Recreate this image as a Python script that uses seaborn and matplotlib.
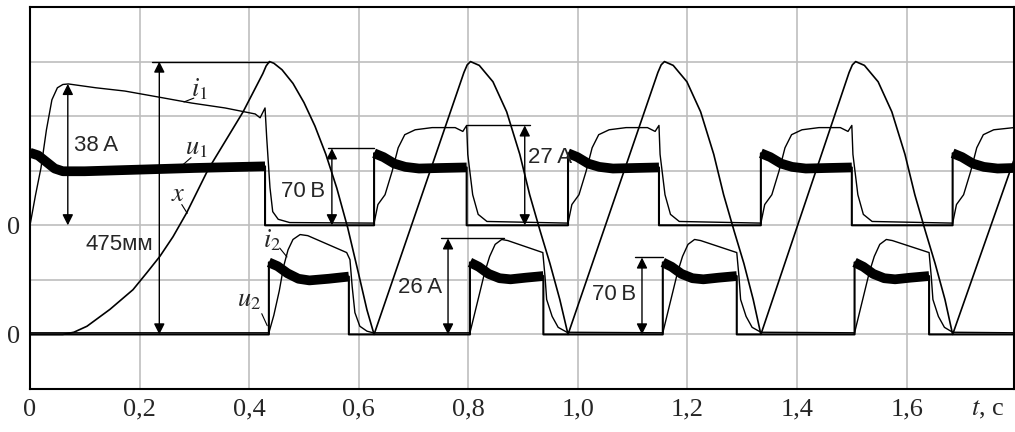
import numpy as np
import pandas as pd
import matplotlib
matplotlib.use("Agg")
import matplotlib.pyplot as plt
import seaborn as sns

# all values in grid units: lower channel zero = 0, upper channel zero = 2
T_END = 1.796

# x: displacement of the armature
x_t = [0.000, 0.060, 0.080, 0.104, 0.146, 0.188, 0.214, 0.237, 0.261, 0.286, 0.325, 0.389, 0.425, 0.431, 0.437,
       0.445, 0.460, 0.480, 0.500, 0.520, 0.540, 0.560, 0.580, 0.600, 0.615, 0.628,
       0.792, 0.798, 0.804, 0.820, 0.845, 0.870, 0.894, 0.912, 0.931, 0.949, 0.967, 0.982,
       1.146, 1.152, 1.158, 1.174, 1.199, 1.224, 1.248, 1.266, 1.285, 1.303, 1.320, 1.334,
       1.495, 1.501, 1.507, 1.523, 1.548, 1.573, 1.597, 1.615, 1.634, 1.652, 1.670, 1.684,
       1.796]
x_y = [0.00, 0.00, 0.04, 0.15, 0.46, 0.82, 1.14, 1.43, 1.79, 2.23, 3.02, 4.08, 4.78, 4.92, 5.00,
       4.97, 4.85, 4.60, 4.25, 3.82, 3.30, 2.68, 1.95, 1.10, 0.45, 0.00,
       4.80, 4.94, 5.00, 4.93, 4.63, 4.08, 3.30, 2.56, 1.90, 1.30, 0.64, 0.00,
       4.80, 4.94, 5.00, 4.93, 4.63, 4.08, 3.30, 2.56, 1.90, 1.30, 0.64, 0.00,
       4.80, 4.94, 5.00, 4.93, 4.63, 4.08, 3.30, 2.56, 1.90, 1.30, 0.64, 0.00,
       3.20]

# i1: current of the first winding (upper channel)
i1_t = [0.000, 0.010, 0.020, 0.030, 0.040, 0.050, 0.060, 0.070, 0.120, 0.173, 0.240, 0.295, 0.356, 0.411, 0.420,
        0.429, 0.432, 0.438, 0.443, 0.453, 0.474,
        0.628, 0.635, 0.648, 0.661, 0.672, 0.684, 0.703, 0.734, 0.776, 0.790, 0.797, 0.799, 0.808, 0.818, 0.834,
        0.982, 0.989, 1.002, 1.015, 1.026, 1.038, 1.057, 1.088, 1.127, 1.141, 1.148, 1.150, 1.159, 1.169, 1.185,
        1.334, 1.341, 1.354, 1.367, 1.378, 1.390, 1.409, 1.440, 1.479, 1.493, 1.500, 1.502, 1.511, 1.521, 1.537,
        1.684, 1.691, 1.704, 1.717, 1.728, 1.740, 1.759, 1.796]
i1_y = [2.00, 2.55, 3.05, 3.75, 4.30, 4.52, 4.58, 4.59, 4.52, 4.46, 4.34, 4.24, 4.15, 4.04, 3.97,
        4.15, 3.61, 2.69, 2.25, 2.11, 2.05,
        2.04, 2.38, 2.56, 2.99, 3.42, 3.66, 3.75, 3.79, 3.79, 3.72, 3.83, 3.30, 2.56, 2.20, 2.07,
        2.04, 2.38, 2.56, 2.99, 3.42, 3.66, 3.75, 3.79, 3.79, 3.72, 3.83, 3.30, 2.56, 2.20, 2.07,
        2.04, 2.38, 2.56, 2.99, 3.42, 3.66, 3.75, 3.79, 3.79, 3.72, 3.83, 3.30, 2.56, 2.20, 2.07,
        2.04, 2.38, 2.56, 2.99, 3.42, 3.66, 3.75, 3.79]

# i2: current of the second winding (lower channel)
i2_t = [0.000, 0.436, 0.445, 0.455, 0.463, 0.471, 0.480, 0.493, 0.507, 0.578, 0.584, 0.588, 0.593, 0.602, 0.615, 0.626,
        0.803, 0.812, 0.821, 0.830, 0.839, 0.849, 0.861, 0.872, 0.936, 0.940, 0.943, 0.953, 0.964, 0.980,
        1.155, 1.164, 1.173, 1.182, 1.191, 1.201, 1.213, 1.224, 1.290, 1.294, 1.297, 1.307, 1.318, 1.334,
        1.505, 1.514, 1.523, 1.532, 1.541, 1.551, 1.563, 1.574, 1.641, 1.645, 1.648, 1.658, 1.669, 1.684,
        1.796]
i2_y = [0.03, 0.03, 0.35, 0.80, 1.25, 1.55, 1.74, 1.83, 1.81, 1.50, 1.37, 0.88, 0.40, 0.15, 0.06, 0.03,
        0.03, 0.40, 0.77, 1.14, 1.43, 1.65, 1.74, 1.72, 1.50, 1.06, 0.64, 0.33, 0.13, 0.04,
        0.03, 0.40, 0.77, 1.14, 1.43, 1.65, 1.74, 1.72, 1.50, 1.06, 0.64, 0.33, 0.13, 0.04,
        0.03, 0.40, 0.77, 1.14, 1.43, 1.65, 1.74, 1.72, 1.50, 1.06, 0.64, 0.33, 0.13, 0.04,
        0.03]

# u1 pulses (upper channel, zero = 2)
u1_pulses = [
    ([0.000, 0.015, 0.030, 0.045, 0.060, 0.100, 0.200, 0.300, 0.429],
     [3.33, 3.28, 3.16, 3.04, 2.99, 2.99, 3.02, 3.05, 3.08]),
    ([0.628, 0.645, 0.665, 0.685, 0.710, 0.750, 0.797],
     [3.32, 3.25, 3.13, 3.07, 3.04, 3.05, 3.06]),
    ([0.982, 0.999, 1.019, 1.039, 1.064, 1.104, 1.148],
     [3.32, 3.25, 3.13, 3.07, 3.04, 3.05, 3.06]),
    ([1.334, 1.351, 1.371, 1.391, 1.416, 1.456, 1.500],
     [3.32, 3.25, 3.13, 3.07, 3.04, 3.05, 3.06]),
    ([1.684, 1.701, 1.721, 1.741, 1.766, 1.796],
     [3.32, 3.25, 3.13, 3.07, 3.04, 3.05]),
]

# u2 pulses (lower channel, zero = 0)
u2_pulses = [
    ([0.436, 0.452, 0.470, 0.490, 0.510, 0.545, 0.582],
     [1.32, 1.25, 1.12, 1.02, 0.99, 1.02, 1.06]),
    ([0.803, 0.819, 0.837, 0.857, 0.877, 0.905, 0.937],
     [1.32, 1.24, 1.11, 1.03, 1.01, 1.04, 1.07]),
    ([1.155, 1.171, 1.189, 1.209, 1.229, 1.257, 1.290],
     [1.32, 1.24, 1.11, 1.03, 1.01, 1.04, 1.07]),
    ([1.505, 1.521, 1.539, 1.559, 1.579, 1.607, 1.641],
     [1.32, 1.24, 1.11, 1.03, 1.01, 1.04, 1.07]),
]

# dimension arrows: (t, y_bottom, y_top, label, label_t, label_y, align, line_from, line_to)
dims = [
    (0.069, 2.0, 4.59, "38\u2009A", 0.080, 3.46, "left", None, None),
    (0.236, 0.0, 5.00, "475мм", 0.224, 1.65, "right", 0.223, 0.436),
    (0.551, 2.0, 3.41, "70\u2009В", 0.539, 2.62, "right", 0.544, 0.628),
    (0.903, 2.0, 3.83, "27\u2009A", 0.909, 3.24, "left", 0.797, 0.912),
    (0.763, 0.0, 1.76, "26\u2009A", 0.753, 0.86, "right", 0.750, 0.865),
    (1.117, 0.0, 1.41, "70\u2009В", 1.106, 0.73, "right", 1.104, 1.155),
]

# trace names: (text, text_t, text_y, leader start, leader end)
names = [
    ("$i_1$", 0.310, 4.50, (0.299, 4.33), (0.281, 4.26)),
    ("$u_1$", 0.303, 3.40, (0.294, 3.24), (0.278, 3.10)),
    ("$x$", 0.270, 2.56, (0.277, 2.38), (0.287, 2.22)),
    ("$i_2$", 0.442, 1.73, (0.456, 1.58), (0.469, 1.42)),
    ("$u_2$", 0.400, 0.62, (0.423, 0.38), (0.433, 0.16)),
]

xtick_pos = [0, 0.2, 0.4, 0.6, 0.8, 1.0, 1.2, 1.4, 1.6]
xtick_lab = ["0", "0,2", "0,4", "0,6", "0,8", "1,0", "1,2", "1,4", "1,6"]


def square_trace(pulses, zero):
    ts, ys = [], []
    if pulses[0][0][0] > 0:
        ts.append(0.0); ys.append(zero)
    for pt, pv in pulses:
        if pt[0] > 0:
            ts.append(pt[0]); ys.append(zero)
        ts += pt; ys += pv
        if pt[-1] < T_END:
            ts.append(pt[-1]); ys.append(zero)
    if ts[-1] < T_END:
        ts.append(T_END); ys.append(zero)
    return ts, ys


sns.set_theme(style="white")
plt.rcParams["mathtext.fontset"] = "stix"
plt.rcParams["font.family"] = ["Liberation Serif", "DejaVu Serif"]

fig = plt.figure(figsize=(10.15, 4.32), dpi=100)
ax = fig.add_axes([30 / 1015, 43 / 432, 984 / 1015, 382 / 432])

for v in xtick_pos[1:]:
    ax.axvline(v, color="#c4c4c4", lw=1.3, zorder=0)
for h in [0, 1, 2, 3, 4, 5]:
    ax.axhline(h, color="#bdbdbd", lw=1.2, zorder=0)

kw = dict(sort=False, estimator=None, color="black", ax=ax, legend=False)
for pulses, zero in [(u1_pulses, 2.0), (u2_pulses, 0.0)]:
    ts, ys = square_trace(pulses, zero)
    sns.lineplot(x=ts, y=ys, lw=1.5, **kw)
    for pt, pv in pulses:
        sns.lineplot(x=pt, y=pv, lw=7, **kw)
sns.lineplot(x=x_t, y=x_y, lw=1.2, **kw)
sns.lineplot(x=i1_t, y=i1_y, lw=1.0, **kw)
sns.lineplot(x=i2_t, y=i2_y, lw=1.0, **kw)
for line in ax.lines:
    line.set_solid_capstyle("butt")

for t, y0, y1, lab, lt, ly, al, h0, h1 in dims:
    ax.annotate("", xy=(t, y1), xytext=(t, y0),
                arrowprops=dict(arrowstyle="<|-|>", color="black", lw=1.0,
                                mutation_scale=16, shrinkA=0, shrinkB=0))
    if h0 is not None:
        ax.plot([h0, h1], [y1, y1], color="black", lw=1.0)
    ax.text(lt, ly, lab, family=["Liberation Sans", "DejaVu Sans"], fontsize=16,
            ha=al, va="center")

for lab, tx, ty, p0, p1 in names:
    ax.text(tx, ty, lab, fontsize=19, ha="center", va="center")
    ax.plot([p0[0], p1[0]], [p0[1], p1[1]], color="black", lw=0.8)

ax.set_xlim(0, T_END)
ax.set_ylim(-1, 6)
ax.set_xticks(xtick_pos)
ax.set_xticklabels(xtick_lab)
ax.set_yticks([0, 2])
ax.set_yticklabels(["0", "0"])
ax.tick_params(length=0, labelsize=19, pad=7)
ax.annotate("$t$, с", xy=(1.748, 0), xycoords=("data", "axes fraction"),
            xytext=(0, -7), textcoords="offset points", ha="center", va="top", fontsize=19)
for s in ax.spines.values():
    s.set_visible(True)
    s.set_color("black")
    s.set_linewidth(1.5)

fig.savefig("out.png", dpi=100)
